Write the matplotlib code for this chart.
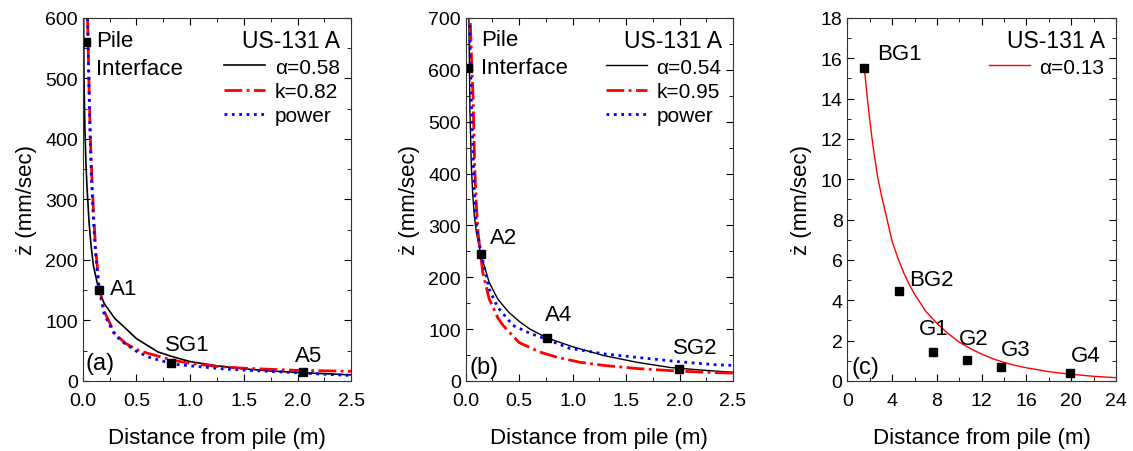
import matplotlib.pyplot as plt
from matplotlib.ticker import MultipleLocator

plt.rcParams['font.family'] = ['Liberation Sans', 'DejaVu Sans']
plt.rcParams['font.size'] = 16

# (a) measured points
a_pt_x = [0.03, 0.15, 0.82, 2.05]
a_pt_y = [560, 150, 30, 15]

# (a) fitted curves
a_blk_x = [0.008, 0.012, 0.02, 0.03, 0.04, 0.06, 0.08, 0.1, 0.15, 0.2, 0.3, 0.375, 0.5, 0.7, 0.82, 1.0, 1.25, 1.5, 1.75, 2.0, 2.25, 2.5]
a_blk_y = [600, 500, 420, 360, 320, 260, 220, 190, 150, 128, 103, 91, 70, 48, 41, 32, 25, 20, 16.5, 14, 12, 10]
a_red_x = [0.045, 0.05, 0.06, 0.07, 0.08, 0.1, 0.12, 0.15, 0.2, 0.3, 0.4, 0.5, 0.6, 0.82, 1.0, 1.25, 1.5, 2.0, 2.5]
a_red_y = [600, 560, 480, 410, 360, 280, 220, 160, 115, 78, 62, 52, 46, 35, 29, 24, 21, 17.5, 16]
a_blu_x = [0.045, 0.05, 0.06, 0.07, 0.08, 0.1, 0.12, 0.15, 0.2, 0.3, 0.375, 0.5, 0.62, 0.84, 1.0, 1.3, 1.6, 1.92, 2.2, 2.5]
a_blu_y = [600, 560, 470, 400, 340, 265, 210, 155, 110, 76, 64, 49, 39, 28, 25, 20, 17, 14.3, 11.5, 9]

# (b) measured points
b_pt_x = [0.022, 0.14, 0.76, 1.99]
b_pt_y = [603, 245, 82, 23]

# (b) fitted curves
b_blk_x = [0.03, 0.04, 0.053, 0.065, 0.08, 0.1, 0.14, 0.22, 0.3, 0.4, 0.5, 0.6, 0.76, 1.0, 1.29, 1.6, 1.91, 2.2, 2.5]
b_blk_y = [700, 520, 415, 364, 320, 287, 245, 190, 158, 133, 115, 100, 83, 66, 49, 36, 26, 21, 16.7]
b_red_x = [0.044, 0.055, 0.07, 0.084, 0.1, 0.115, 0.16, 0.22, 0.3, 0.35, 0.5, 0.69, 0.85, 1.07, 1.29, 1.6, 1.91, 2.2, 2.5]
b_red_y = [690, 620, 544, 415, 340, 287, 209, 158, 122, 107, 74, 56, 46, 36, 30, 24, 20, 17, 15]
b_blu_x = [0.037, 0.045, 0.062, 0.08, 0.1, 0.14, 0.22, 0.3, 0.443, 0.6, 0.76, 0.97, 1.3, 1.6, 2.0, 2.35, 2.5]
b_blu_y = [686, 600, 480, 370, 300, 250, 177, 142, 107, 92, 80, 63, 52, 45.5, 37, 31, 30]

# (c) measured points
c_pt_x = [1.5, 4.57, 7.6, 10.7, 13.75, 19.9]
c_pt_y = [15.5, 4.45, 1.46, 1.05, 0.71, 0.41]
c_pt_lab = ['BG1', 'BG2', 'G1', 'G2', 'G3', 'G4']

# (c) fitted curve
c_fit_x = [1.5, 1.6, 1.8, 2.0, 2.2, 2.4, 2.7, 3.0, 3.5, 4.0, 4.5, 5.0, 5.5, 6.0, 7.0, 8.0, 9.0, 10, 11, 12, 13, 14, 15, 16, 18, 20, 22, 24]
c_fit_y = [15.5, 15.0, 13.9, 12.9, 12.0, 11.2, 10.1, 9.3, 8.1, 6.9, 6.1, 5.4, 4.8, 4.3, 3.45, 2.85, 2.35, 1.92, 1.6, 1.33, 1.1, 0.92, 0.77, 0.65, 0.46, 0.33, 0.23, 0.16]

fig = plt.figure(figsize=(11.33, 4.52), dpi=100)
ax1 = fig.add_axes([0.073, 0.155, 0.237, 0.803])
ax2 = fig.add_axes([0.411, 0.155, 0.236, 0.803])
ax3 = fig.add_axes([0.748, 0.155, 0.237, 0.803])


def style(ax, xmaj, ymaj):
    ax.xaxis.set_major_locator(MultipleLocator(xmaj))
    ax.xaxis.set_minor_locator(MultipleLocator(xmaj / 2))
    ax.yaxis.set_major_locator(MultipleLocator(ymaj))
    ax.yaxis.set_minor_locator(MultipleLocator(ymaj / 2))
    ax.tick_params(which='both', direction='in', top=True, right=True)
    ax.tick_params(which='major', length=5, labelsize=14)
    ax.tick_params(axis='x', which='major', pad=8)
    ax.tick_params(which='minor', length=3)
    ax.set_xlabel('Distance from pile (m)', fontsize=16, labelpad=13)
    ax.set_ylabel('ż (mm/sec)', fontsize=16, labelpad=6)
    for s in ax.spines.values():
        s.set_color('#333333')


# panel a
ax1.plot(a_blk_x, a_blk_y, color='black', lw=1.2, label='α=0.58')
ax1.plot(a_red_x, a_red_y, color='red', lw=2, ls='-.', label='k=0.82')
ax1.plot(a_blu_x, a_blu_y, color='blue', lw=2, ls=':', label='power')
ax1.plot(a_pt_x, a_pt_y, 's', color='black', ms=6)
ax1.set_xlim(0, 2.5)
ax1.set_ylim(0, 600)
style(ax1, 0.5, 100)
ax1.text(0.124, 563, 'Pile', va='center')
ax1.text(0.124, 517, 'Interface', va='center')
ax1.text(0.25, 152, 'A1', va='center')
ax1.text(0.77, 61, 'SG1', va='center')
ax1.text(1.98, 42, 'A5', va='center')
ax1.text(0.025, 29, '(a)', va='center', fontsize=17)

# panel b
ax2.plot(b_blk_x, b_blk_y, color='black', lw=1.0, label='α=0.54')
ax2.plot(b_red_x, b_red_y, color='red', lw=2, ls='-.', label='k=0.95')
ax2.plot(b_blu_x, b_blu_y, color='blue', lw=2, ls=':', label='power')
ax2.plot(b_pt_x, b_pt_y, 's', color='black', ms=6)
ax2.set_xlim(0, 2.5)
ax2.set_ylim(0, 700)
style(ax2, 0.5, 100)
ax2.text(0.146, 659, 'Pile', va='center')
ax2.text(0.146, 605, 'Interface', va='center')
ax2.text(0.224, 277, 'A2', va='center')
ax2.text(0.74, 129, 'A4', va='center')
ax2.text(1.94, 64, 'SG2', va='center')
ax2.text(0.037, 26, '(b)', va='center', fontsize=17)

# panel c
ax3.plot(c_fit_x, c_fit_y, color='red', lw=1.0, label='α=0.13')
ax3.plot(c_pt_x, c_pt_y, 's', color='black', ms=6)
ax3.set_xlim(0, 24)
ax3.set_ylim(0, 18)
style(ax3, 4, 2)
lab_xy = [(2.69, 16.22), (5.47, 5.03), (6.37, 2.62), (10.0, 2.12), (13.7, 1.54), (19.96, 1.24)]
for t, (tx, ty) in zip(c_pt_lab, lab_xy):
    ax3.text(tx, ty, t, va='center')
ax3.text(0.39, 0.71, '(c)', va='center', fontsize=17)

for ax in (ax1, ax2, ax3):
    ax.legend(title='US-131 A', loc='upper right', frameon=False, fontsize=15,
              title_fontsize=16.5, handlelength=2.0, handletextpad=0.45,
              labelspacing=0.25, borderaxespad=0.25, borderpad=0.3,
              alignment='right')

fig.savefig('out.png', dpi=100)
